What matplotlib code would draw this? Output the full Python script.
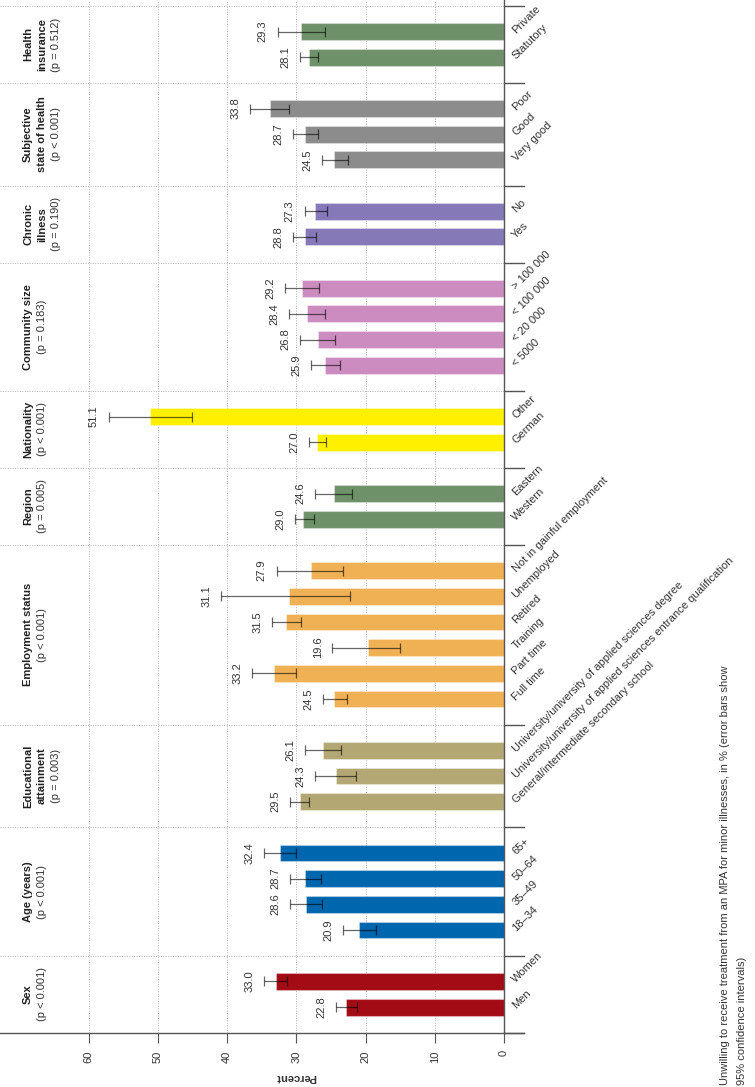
import matplotlib.pyplot as plt
from matplotlib.transforms import blended_transform_factory

plt.rcParams['font.family'] = ['Liberation Sans', 'DejaVu Sans']

# panels (first category sits next to the x axis)
groups = ['Sex', 'Age (years)', 'Educational\nattainment', 'Employment status', 'Region',
          'Nationality', 'Community size', 'Chronic\nillness', 'Subjective\nstate of health',
          'Health\ninsurance']
p_values = ['(p < 0.001)', '(p < 0.001)', '(p = 0.003)', '(p < 0.001)', '(p = 0.005)',
            '(p < 0.001)', '(p = 0.183)', '(p = 0.190)', '(p < 0.001)', '(p = 0.512)']
categories = [
    ['Men', 'Women'],
    ['18–34', '35–49', '50–64', '65+'],
    ['General/intermediate secondary school',
     'University/university of applied sciences entrance qualification',
     'University/university of applied sciences degree'],
    ['Full time', 'Part time', 'Training', 'Retired', 'Unemployed', 'Not in gainful employment'],
    ['Western', 'Eastern'],
    ['German', 'Other'],
    ['< 5000', '< 20 000', '< 100 000', '> 100 000'],
    ['Yes', 'No'],
    ['Very good', 'Good', 'Poor'],
    ['Statutory', 'Private'],
]
values = [
    [22.8, 33.0],
    [20.9, 28.6, 28.7, 32.4],
    [29.5, 24.3, 26.1],
    [24.5, 33.2, 19.6, 31.5, 31.1, 27.9],
    [29.0, 24.6],
    [27.0, 51.1],
    [25.9, 26.8, 28.4, 29.2],
    [28.8, 27.3],
    [24.5, 28.7, 33.8],
    [28.1, 29.3],
]
ci_low = [
    [21.3, 31.4],
    [18.5, 26.25, 26.4, 30.1],
    [28.1, 21.4, 23.5],
    [22.7, 30.0, 15.0, 29.3, 22.25, 23.2],
    [27.5, 21.9],
    [25.7, 45.1],
    [23.7, 24.4, 25.8, 26.7],
    [27.1, 25.6],
    [22.6, 26.8, 31.1],
    [26.8, 25.8],
]
ci_high = [
    [24.2, 34.6],
    [23.3, 30.95, 30.9, 34.7],
    [30.9, 27.3, 28.75],
    [26.15, 36.4, 24.8, 33.5, 40.9, 32.85],
    [30.2, 27.3],
    [28.1, 57.1],
    [27.9, 29.4, 31.1, 31.6],
    [30.5, 28.8],
    [26.3, 30.5, 36.7],
    [29.4, 32.7],
]
colors = ['#a30b15', '#0066ad', '#b3a874', '#f0b155', '#6f9169',
          '#fff000', '#cc8cbf', '#8579b8', '#8c8c8c', '#6f9169']
caption = ['Unwilling to receive treatment from an MPA for minor illnesses, in % (error bars show',
           '95% confidence intervals)']

W, H = 755, 1087
fs = 8.0
fig = plt.figure(figsize=(W / 100, H / 100), dpi=100)
ax = fig.add_axes([0, (H - 1032.7) / H, 504 / W, 1032.7 / H])
ax.set_xlim(72.8, 0)
ax.set_ylim(0, 40.23)

axis_col = '#555555'
grid_col = '#b5b5b5'

for v in range(10, 61, 10):
    ax.axvline(v, color=grid_col, lw=0.7, ls=(0, (1, 1.5)), zorder=0)

trans = blended_transform_factory(ax.transAxes, ax.transData)
pos = 0
bounds = [0]
for g in range(len(groups)):
    n = len(categories[g])
    ys = [pos + i + 1 for i in range(n)]
    ax.barh(ys, values[g], height=0.66, color=colors[g], edgecolor=(1, 1, 1, 0.3),
            linewidth=0.8, zorder=2)
    for i in range(n):
        v, lo, hi, y = values[g][i], ci_low[g][i], ci_high[g][i], ys[i]
        ax.errorbar(v, y, xerr=[[v - lo], [hi - v]], fmt='none', ecolor='black', alpha=0.6,
                    elinewidth=0.9, capsize=3.6, capthick=0.9, zorder=3)
        ax.text(hi + 1.4, y, '%.1f' % v, rotation=90, ha='right', va='center',
                fontsize=fs, color='#333333')
        ax.text(-1.45, y, categories[g][i], rotation=45, rotation_mode='anchor',
                ha='left', va='center', fontsize=fs, color='#333333', clip_on=False)
    # panel title
    yc = pos + (n + 1) / 2
    lines = groups[g].split('\n')
    for i, line in enumerate(lines):
        ax.text((28 + 14 * i) / 504, yc, line, transform=trans, rotation=90, ha='center',
                va='center', fontsize=fs, fontweight='bold', color='#222222')
    ax.text((28 + 14 * len(lines)) / 504, yc, p_values[g], transform=trans, rotation=90,
            ha='center', va='center', fontsize=fs, color='#333333')
    pos += n + 1
    bounds.append(pos)

for b in bounds:
    if b > 0:
        ax.axhline(b, color=grid_col, lw=0.7, ls=(0, (1, 1.5)), zorder=0)
    ax.plot([0, -2.9], [b, b], color=axis_col, lw=1, clip_on=False, zorder=4)

# x axis line running under the whole plot
ax.plot([72.8, -2.9], [0, 0], color=axis_col, lw=1, clip_on=False, zorder=4)

for s in ['top', 'left', 'bottom']:
    ax.spines[s].set_visible(False)
ax.spines['right'].set_color(axis_col)
ax.spines['right'].set_linewidth(1)
ax.spines['right'].set_zorder(4)

ax.set_yticks([])
ax.set_xticks(range(0, 61, 10))
ax.tick_params(axis='x', direction='out', length=7.2, width=0.8, color=axis_col, pad=5.5,
               labelsize=fs, labelcolor='#333333', labelrotation=90)
ax.text(30, -1.72, 'Percent', rotation=180, ha='center', va='center', fontsize=fs,
        fontweight='bold', color='#333333', clip_on=False)

fig.text(725 / W, 1 - 1085 / H, caption[0], rotation=90, ha='center', va='bottom',
         fontsize=fs, color='#333333')
fig.text(742 / W, 1 - 1085 / H, caption[1], rotation=90, ha='center', va='bottom',
         fontsize=fs, color='#333333')

fig.savefig('out.png', dpi=100)
